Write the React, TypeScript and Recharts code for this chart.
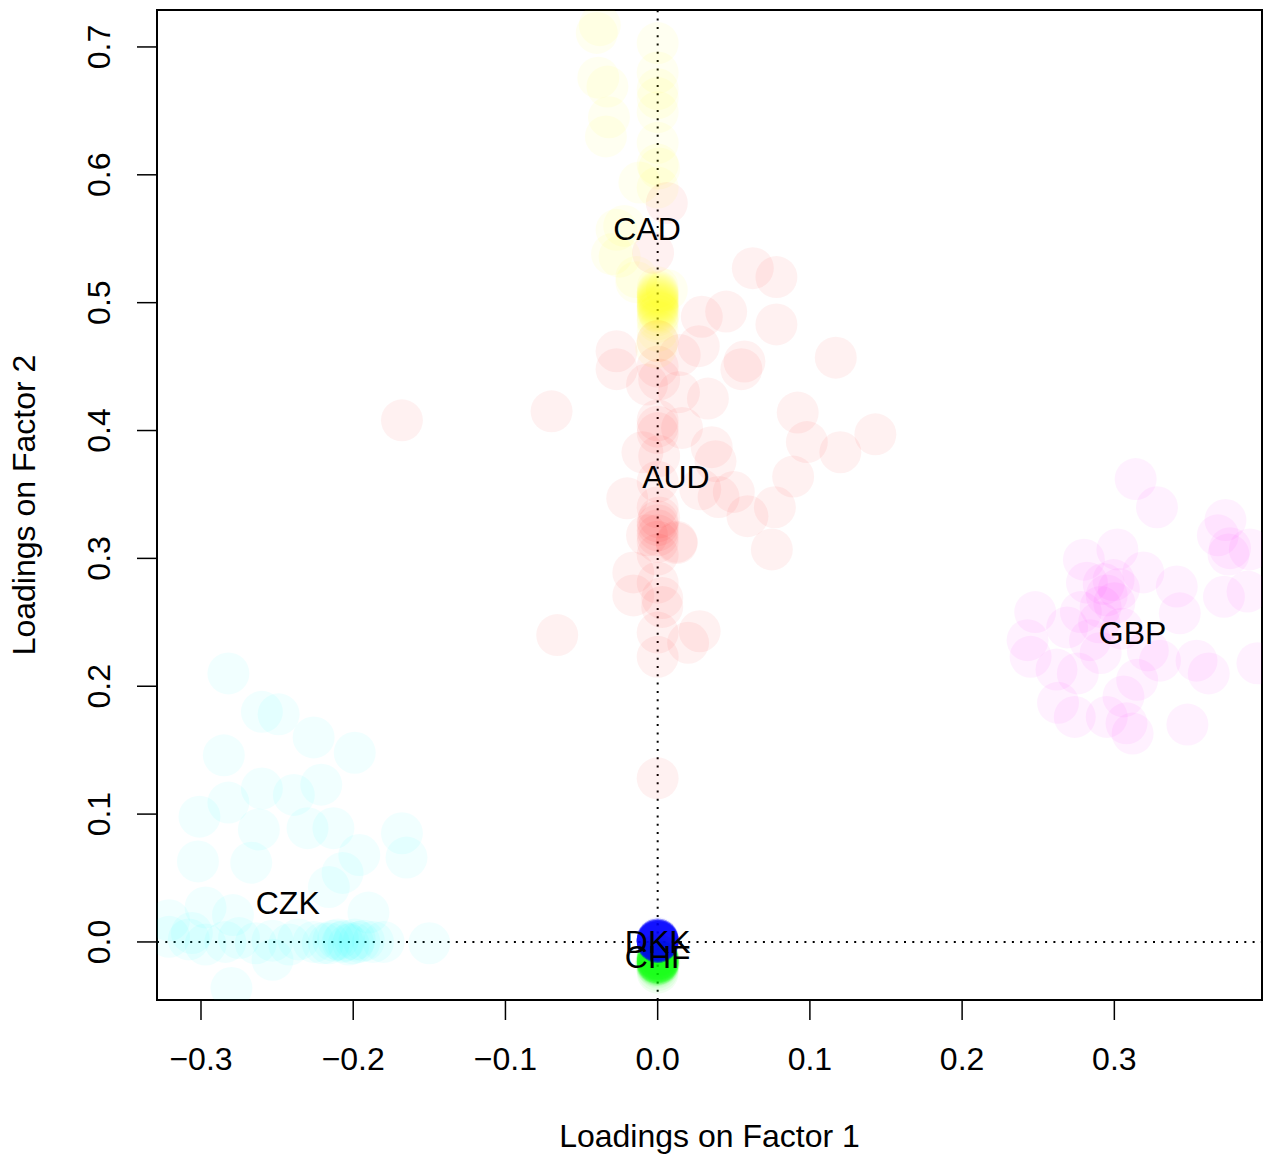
import React from 'react';
import {
  ScatterChart, Scatter, XAxis, YAxis, ReferenceLine, ReferenceArea,
} from 'recharts';

type Pt = [number, number];

const AUD: Pt[] = [
  [0.006, 0.578], [-0.003, 0.539], [0.0625, 0.527], [0.078, 0.52], [0.045, 0.493],
  [0.029, 0.489], [0.078, 0.483], [0.117, 0.457], [0.057, 0.454], [0.055, 0.448],
  [0.027, 0.466], [0.0145, 0.459], [-0.027, 0.462], [-0.027, 0.448], [-0.007, 0.436],
  [0.001, 0.44], [0.0, 0.45], [0.033, 0.425], [0.014, 0.43], [0.092, 0.414],
  [0.098, 0.391], [0.12, 0.383], [0.143, 0.397], [0.089, 0.364], [0.016, 0.402],
  [0.0, 0.403], [0.0, 0.408], [0.0, 0.398], [0.0355, 0.387], [0.038, 0.376],
  [-0.01, 0.383], [0.001, 0.38], [0.05, 0.352], [0.077, 0.34], [0.059, 0.333],
  [0.075, 0.307], [0.04, 0.348], [0.028, 0.354], [0.0125, 0.312], [-0.0697, 0.415],
  [-0.168, 0.408], [-0.066, 0.24], [-0.02, 0.347], [0.0, 0.34], [0.0, 0.329],
  [-0.007, 0.318], [0.0, 0.313], [0.0125, 0.313], [0.0, 0.303], [0.0, 0.322],
  [0.0, 0.326], [-0.016, 0.289], [0.0, 0.281], [-0.016, 0.271], [0.003, 0.269],
  [0.003, 0.262], [0.0, 0.242], [0.0276, 0.243], [0.02, 0.234], [0.0, 0.223],
  [0.0, 0.128], [0.0, 0.47], [0.0, 0.36], [0.0, 0.318], [0.001, 0.332],
];

const CAD: Pt[] = [
  [-0.04, 0.711], [-0.038, 0.717], [0.0, 0.703], [-0.039, 0.676], [-0.033, 0.669],
  [0.0, 0.667], [0.0, 0.66], [-0.032, 0.645], [-0.034, 0.63], [0.0, 0.649],
  [0.0, 0.625], [0.0, 0.608], [0.001, 0.605], [-0.012, 0.594], [-0.022, 0.56],
  [-0.027, 0.557], [-0.03, 0.538], [-0.025, 0.536], [-0.014, 0.516], [-0.014, 0.52],
  [0.006, 0.51], [0.0, 0.512], [0.0, 0.508], [0.0, 0.505], [0.0, 0.502],
  [0.0, 0.499], [0.0, 0.497], [0.0, 0.495], [0.001, 0.492], [0.0, 0.49],
  [0.0, 0.487], [0.0, 0.485], [0.0, 0.503], [0.0, 0.5], [0.0, 0.478],
  [0.0, 0.47], [-0.001, 0.465], [0.0, 0.68], [0.0, 0.59], [0.0, 0.506],
  [0.0, 0.501], [0.0, 0.498], [0.0, 0.494], [0.0, 0.509], [0.0, 0.496],
  [0.0, 0.504], [0.0, 0.493], [0.0, 0.507],
];

const CHF: Pt[] = [
  [0.0, -0.012], [0.0, -0.013], [0.0, -0.014], [0.0, -0.015], [0.0, -0.016],
  [0.0, -0.017], [0.0, -0.018], [0.0, -0.015], [0.0, -0.016], [0.0, -0.014],
  [0.001, -0.015], [-0.001, -0.016], [0.0, -0.017], [0.0, -0.013], [0.0, -0.019],
  [0.0, -0.02], [0.0, -0.016], [0.0, -0.015], [0.0, -0.014], [0.001, -0.017],
  [-0.001, -0.018], [0.0, -0.022], [0.0, -0.01], [0.0, -0.016], [0.0, -0.015],
  [0.0, -0.024], [0.0, -0.011], [0.0, -0.017], [0.0, -0.016], [0.0, -0.014],
  [0.0, -0.015], [0.0, -0.016], [0.0, -0.018], [0.0, -0.013], [0.0, -0.017],
];

const CZK: Pt[] = [
  [-0.282, 0.21], [-0.26, 0.18], [-0.249, 0.178], [-0.226, 0.16], [-0.199, 0.148],
  [-0.285, 0.146], [-0.26, 0.12], [-0.282, 0.109], [-0.301, 0.098], [-0.239, 0.115],
  [-0.221, 0.123], [-0.262, 0.088], [-0.23, 0.089], [-0.213, 0.089], [-0.302, 0.063],
  [-0.267, 0.062], [-0.168, 0.085], [-0.165, 0.066], [-0.196, 0.068], [-0.207, 0.054],
  [-0.216, 0.043], [-0.297, 0.027], [-0.279, 0.021], [-0.19, 0.023], [-0.321, 0.004],
  [-0.308, 0.002], [-0.297, -0.002], [-0.284, 0.0], [-0.275, 0.003], [-0.264, -0.001],
  [-0.253, 0.001], [-0.242, -0.002], [-0.236, 0.002], [-0.226, 0.0], [-0.22, -0.001],
  [-0.213, 0.001], [-0.207, 0.0], [-0.2, -0.001], [-0.193, 0.001], [-0.187, 0.0],
  [-0.18, 0.0], [-0.15, -0.001], [-0.253, -0.014], [-0.28, -0.036], [-0.306, 0.007],
  [-0.321, 0.017], [-0.21, 0.002], [-0.203, -0.002], [-0.196, 0.0], [-0.216, -0.001],
  [-0.206, 0.001], [-0.199, 0.002],
];

const DKK: Pt[] = [
  [0.0, 0.001], [0.0, 0.0], [0.0, 0.002], [0.0, 0.001], [0.0, 0.0],
  [0.0, 0.001], [0.0, 0.002], [0.0, 0.0], [0.0, 0.001], [0.0, 0.003],
  [0.0, 0.001], [0.0, 0.0], [0.0, 0.002], [0.0, 0.001], [0.0, 0.0],
  [0.0, 0.001], [0.0, 0.002], [0.0, 0.0], [0.0, 0.001], [0.0, 0.001],
  [0.0, 0.0], [0.0, 0.002], [0.0, 0.001], [0.0, 0.0], [0.0, 0.001],
  [0.0, 0.002], [0.0, 0.001], [0.0, 0.0], [0.0, 0.001], [0.0, 0.002],
  [0.0, 0.001], [0.0, 0.0], [0.0, 0.001], [0.0, 0.002], [0.0, 0.001],
  [0.0, 0.0], [0.0, 0.001], [0.0, 0.002], [0.0, 0.001], [0.0, 0.0],
];

const GBP: Pt[] = [
  [0.314, 0.362], [0.328, 0.34], [0.373, 0.33], [0.368, 0.318], [0.376, 0.308],
  [0.375, 0.303], [0.389, 0.307], [0.3875, 0.274], [0.372, 0.27], [0.302, 0.307],
  [0.28, 0.299], [0.282, 0.281], [0.295, 0.271], [0.291, 0.262], [0.303, 0.276],
  [0.293, 0.28], [0.3, 0.265], [0.2995, 0.283], [0.319, 0.289], [0.341, 0.278],
  [0.343, 0.257], [0.248, 0.258], [0.243, 0.236], [0.245, 0.223], [0.269, 0.246],
  [0.284, 0.236], [0.291, 0.226], [0.262, 0.213], [0.276, 0.21], [0.322, 0.228],
  [0.33, 0.22], [0.354, 0.22], [0.362, 0.21], [0.394, 0.218], [0.306, 0.192],
  [0.315, 0.205], [0.263, 0.187], [0.274, 0.176], [0.308, 0.171], [0.348, 0.17],
  [0.312, 0.163], [0.295, 0.176], [0.29, 0.25], [0.305, 0.245], [0.278, 0.258],
];

const SERIES: { name: string; color: string; points: Pt[] }[] = [
  { name: 'AUD', color: '#FF0000', points: AUD },
  { name: 'CAD', color: '#FFFF00', points: CAD },
  { name: 'CHF', color: '#00FF00', points: CHF },
  { name: 'CZK', color: '#00FFFF', points: CZK },
  { name: 'DKK', color: '#0000FF', points: DKK },
  { name: 'GBP', color: '#FF00FF', points: GBP },
];

const LABELS = [
  { name: 'CAD', x: -0.007, y: 0.558 },
  { name: 'AUD', x: 0.012, y: 0.364 },
  { name: 'GBP', x: 0.312, y: 0.242 },
  { name: 'CZK', x: -0.243, y: 0.0305 },
  { name: 'DKK', x: 0.0, y: 0.0 },
  { name: 'CHF', x: 0.0, y: -0.012 },
];

const X_TICKS = [-0.3, -0.2, -0.1, 0.0, 0.1, 0.2, 0.3];
const Y_TICKS = [0.0, 0.1, 0.2, 0.3, 0.4, 0.5, 0.6, 0.7];
const X_DOMAIN: [number, number] = [-0.3289, 0.397];
const Y_DOMAIN: [number, number] = [-0.0454, 0.7289];

const FONT = '"Liberation Sans", Arial, Helvetica, sans-serif';
const FS = 32;

const XTick = (props: any) => {
  const { x, y, payload } = props;
  return (
    <text x={x} y={y + 37} textAnchor="middle" dominantBaseline="central"
      fontFamily={FONT} fontSize={FS} fill="#000">
      {payload.value.toFixed(1).replace('-', '\u2212')}
    </text>
  );
};

const YTick = (props: any) => {
  const { x, y, payload } = props;
  const cx = x - 36;
  return (
    <text x={cx} y={y} textAnchor="middle" dominantBaseline="central"
      transform={`rotate(-90, ${cx}, ${y})`}
      fontFamily={FONT} fontSize={FS} fill="#000">
      {payload.value.toFixed(1)}
    </text>
  );
};

const xTitle = () => (
  <text x={709.5} y={1136} textAnchor="middle" dominantBaseline="central"
    fontFamily={FONT} fontSize={FS} fill="#000">Loadings on Factor 1</text>
);
const yTitle = () => (
  <text x={24} y={505} textAnchor="middle" dominantBaseline="central"
    transform="rotate(-90, 24, 505)"
    fontFamily={FONT} fontSize={FS} fill="#000">Loadings on Factor 2</text>
);

const makeDot = (color: string) => (props: any) => (
  <circle cx={props.cx} cy={props.cy} r={21} fill={color} fillOpacity={0.055} stroke="none" />
);

const LabelShape = (props: any) => (
  <text x={props.cx} y={props.cy} textAnchor="middle" dominantBaseline="central"
    fontFamily={FONT} fontSize={FS} fill="#000">{props.payload.name}</text>
);

export default function App() {
  return (
    <div style={{ position: 'absolute', left: 0, top: 0, width: 1263, height: 1156, background: '#fff' }}>
      <ScatterChart width={1263} height={1156}
        margin={{ top: 10, right: 1, left: 57, bottom: 56 }}>
        <XAxis type="number" dataKey="x" domain={X_DOMAIN} ticks={X_TICKS}
          allowDataOverflow interval={0} height={100}
          tickSize={20} tickLine={{ stroke: '#000', strokeWidth: 1.5 }}
          axisLine={false} tick={<XTick />} label={xTitle} />
        <YAxis type="number" dataKey="y" domain={Y_DOMAIN} ticks={Y_TICKS}
          allowDataOverflow interval={0} width={100}
          tickSize={20} tickLine={{ stroke: '#000', strokeWidth: 1.5 }}
          axisLine={false} tick={<YTick />} label={yTitle} />
        {SERIES.map((s) => (
          <Scatter key={s.name} name={s.name}
            data={s.points.map(([x, y]) => ({ x, y }))}
            shape={makeDot(s.color)} isAnimationActive={false} />
        ))}
        <ReferenceLine x={0} stroke="#000" strokeWidth={2} strokeDasharray="2 6.3" />
        <ReferenceLine y={0} stroke="#000" strokeWidth={2} strokeDasharray="2 6.3" />
        <Scatter name="labels" data={LABELS} shape={LabelShape} isAnimationActive={false} />
        <ReferenceArea x1={X_DOMAIN[0]} x2={X_DOMAIN[1]} y1={Y_DOMAIN[0]} y2={Y_DOMAIN[1]}
          fill="none" stroke="#000" strokeWidth={2} ifOverflow="visible" />
      </ScatterChart>
    </div>
  );
}
